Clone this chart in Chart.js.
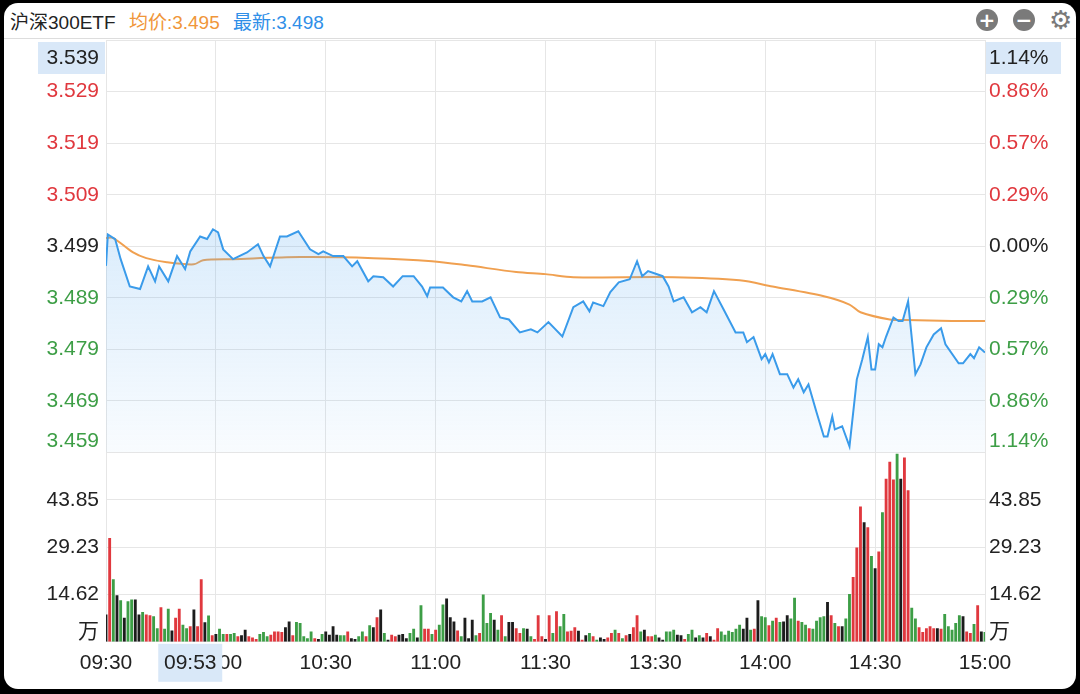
<!DOCTYPE html>
<html lang="zh">
<head>
<meta charset="UTF-8">
<title>沪深300ETF</title>
<script src="https://cdn.jsdelivr.net/npm/chart.js"></script>
<style>
  html, body { margin: 0; padding: 0; background: #000; }
  body { width: 1080px; height: 694px; position: relative; overflow: hidden;
         font-family: "Liberation Sans", "Noto Sans CJK SC", sans-serif; }
  .frame { position: absolute; left: 4px; top: 3px; width: 1072px; height: 686px;
           background: #fff; border-radius: 14px; }
  .head { position: absolute; left: 10px; top: 7px; font-size: 19px; color: #222; white-space: nowrap; }
  .head .avg { color: #f0963a; margin-left: 8px; }
  .head .last { color: #2f8fe8; margin-left: 8px; }
  .sep { position: absolute; left: 4px; right: 4px; top: 38px; height: 1px; background: #ddd; }
  .btn { position: absolute; top: 9px; width: 22px; height: 22px; border-radius: 50%; background: #7a7a7a;
         color: #fff; font: bold 20px/22px "DejaVu Sans", sans-serif; text-align: center; }
  .gear { position: absolute; top: 5px; left: 1049px; font: 26px "DejaVu Sans", sans-serif; color: #7a7a7a; }
  .box { position: absolute; background: #d9e8f8; }
  canvas { position: absolute; left: 0; top: 0; }
</style>
</head>
<body>
<div class="frame"></div>
<div class="sep"></div>
<div class="head">沪深300ETF <span class="avg">均价:3.495</span> <span class="last">最新:3.498</span></div>
<div class="btn" style="left:976px">+</div>
<div class="btn" style="left:1013px">−</div>
<div class="gear">⚙</div>
<div class="box" style="left:38px;top:42px;width:67px;height:32px"></div>
<div class="box" style="left:985px;top:42px;width:76px;height:32px"></div>
<canvas id="c" width="1080" height="694"></canvas>
<script>
// 分时价格 (分钟序号, 价格)
const priceMin = [0,0.5,2.5,4,6.5,9.3,11.5,13.4,14.5,17,19.4,21.6,23,25.7,27.6,29.2,30.6,32,34.7,38.5,41.5,43,44.8,47.5,49.4,52.5,55.7,58,59.3,62,64.8,67.2,68.6,71.6,73,75.7,78.4,81,84,86.3,87.7,88.5,92,94.8,97,98.6,100,102.7,105,107.6,110,113,116,117.8,120.8,124.6,127.6,130.3,132,133,135.8,137.7,140,143,145,146.4,148,152,153.6,155,157.7,160,162.3,164,166,168.6,171.9,174,175,176.8,179,180,181,182,184,186,187.7,189,190.5,191.8,194,196,197,198.3,199,201,203,205,206.5,208,209,210,211,212,213,215,216.4,217.5,219,221,222.4,224,226,228,229.2,232.8,234,236,237,238.4,240];
const priceVal = [3.4952,3.5013,3.5004,3.4965,3.4912,3.4907,3.4951,3.4922,3.4951,3.4922,3.4971,3.4946,3.4980,3.5009,3.5004,3.5023,3.5017,3.4984,3.4965,3.4978,3.4994,3.4971,3.4951,3.5009,3.5009,3.5019,3.4984,3.4975,3.4980,3.4971,3.4971,3.4951,3.4961,3.4922,3.4932,3.4930,3.4912,3.4932,3.4932,3.4912,3.4893,3.4910,3.4910,3.4891,3.4883,3.4903,3.4883,3.4883,3.4891,3.4852,3.4848,3.4823,3.4829,3.4823,3.4843,3.4815,3.4872,3.4883,3.4864,3.4881,3.4874,3.4901,3.4920,3.4926,3.4961,3.4932,3.4942,3.4932,3.4912,3.4883,3.4891,3.4862,3.4872,3.4862,3.4903,3.4868,3.4823,3.4823,3.4804,3.4814,3.4771,3.4781,3.4765,3.4781,3.4742,3.4742,3.4716,3.4732,3.4707,3.4722,3.4668,3.4621,3.4621,3.4660,3.4635,3.4641,3.4602,3.4732,3.4771,3.4814,3.4751,3.4751,3.4800,3.4794,3.4815,3.4852,3.4845,3.4845,3.4883,3.4742,3.4761,3.4794,3.4819,3.4831,3.4800,3.4763,3.4763,3.4781,3.4773,3.4794,3.4784];

// 均价线
const avgMin = [0,2,7.4,11,16.6,24,26.5,34.7,53,73,89,98.6,112,120,127.6,155,173,182,196,203,206,214,218.5,231,240];
const avgVal = [3.5006,3.5006,3.4978,3.4967,3.4959,3.4955,3.4963,3.4965,3.4969,3.4967,3.4961,3.4953,3.4940,3.4936,3.4930,3.4930,3.4924,3.4912,3.4893,3.4877,3.4862,3.4848,3.4847,3.4845,3.4845];

// 每分钟成交量 (万), 每行10分钟
const volume = [
  8.3,32,19.2,14.3,12.7,7.3,12.4,13,13,8.3,
  9.1,8.3,8.1,7.8,4.1,10.6,3.9,10.1,3.4,7.3,
  10.1,5.2,4.1,4.7,9.9,4.7,19.2,5.9,8,1.9,
  2.3,3.9,2.3,2.3,2.3,2.6,1.6,1.9,3.6,1.6,
  1.2,0.8,2.3,2.9,1.6,2.1,3.1,3.1,2.9,4.4,
  6.2,1.9,6,5.7,1.6,1,3.1,1,0.8,2.3,
  3.1,2.1,4.7,2.1,1.9,1.9,3.1,1,0.8,1.6,
  3.1,1.6,5,4.4,7.5,9.9,2.6,0.5,2.1,1.6,
  2.1,2.3,1,2.6,3.9,1.2,11.2,3.9,3.9,2.3,
  3.6,5.2,11.4,13.3,7.5,6.2,3.4,1.6,7.3,1,
  6.7,1.9,2.6,14.5,5.7,8.8,6.7,3.6,8.1,1.6,
  6,6,4.1,2.6,4.1,3.9,1.6,0.8,8.1,1.6,
  0.8,8.1,2.6,9.3,4.7,8.5,3.1,3.3,4.4,3.3,
  0.5,1.9,2.6,1.6,0.5,1.2,0.8,1.2,2.6,3.6,
  2.6,1,1.9,2.3,4.4,8.1,3.1,3.6,1.6,1.6,
  2.1,1.2,0.5,3.1,3.1,3.6,2.1,1.9,0.8,2.3,
  3.6,1.2,1.9,1.2,2.6,1.6,0.5,4.1,3.1,2.1,
  3.3,2.9,3.9,5.2,3.9,7.3,3.6,3.9,12.7,7.8,
  7.5,5,6.4,7.3,6,6.2,8.1,7.1,13.5,6.4,
  6,5.2,4.1,3.9,6.4,7.5,7.8,12.2,8.1,5.7,
  4.7,4.7,7.1,14.7,19.9,29,41.7,36.8,35.3,26.4,
  22.6,27.8,39.9,50.3,55.5,50,58,50.3,56.8,46.7,
  10.4,7.1,4.4,2.9,4.1,4.7,4.1,4.1,3.9,8.5,
  4.7,3.6,5.7,8.1,7.8,3.1,2.6,5.4,11.2,3.1,
  2.9
];
// r 涨 / g 跌 / k 平
const volColor = [
  'krgkgkggkk','grrggrggkr','rggrkrrkgr','kggrggrkkr','rrgggrrrrk',
  'krgggggrkg','kkkkggrkkg','grgkrkgkrr','kkkggkgrrg','rggkkkrgkk',
  'kgrgggkgrg','kkrrgkgrrr','krgrggrrrk','rkgrgkkrrg','rgrkrrgkrr',
  'gkkgggkkrg','gkgkrkrrgg','ggggkkgrkg','grgrgkkggr','ggrggggkrg',
  'rkggrrrkrg','krgrrrgkrr','ggrrrrrkrg','ggggkrrgrk','g'
].join('');

// 坐标刻度
const priceTicks = [3.539, 3.529, 3.519, 3.509, 3.499, 3.489, 3.479, 3.469, 3.459];
const priceLabels = ['3.539', '3.529', '3.519', '3.509', '3.499', '3.489', '3.479', '3.469', '3.459'];
const pctLabels = ['1.14%', '0.86%', '0.57%', '0.29%', '0.00%', '0.29%', '0.57%', '0.86%', '1.14%'];
const tickColors = ['#222', '#e0383e', '#e0383e', '#e0383e', '#222', '#3d9e46', '#3d9e46', '#3d9e46', '#3d9e46'];
const volTicks = [58.46, 43.85, 29.23, 14.62, 0];
const volLabels = ['', '43.85', '29.23', '14.62', '万'];
const timeTicks = [0, 30, 60, 90, 120, 150, 180, 210, 240];
const timeLabels = ['09:30', '10:00', '10:30', '11:00', '11:30', '13:30', '14:00', '14:30', '15:00'];
const crossMin = 23;
const crossLabel = '09:53';

const colorMap = { r: '#e0383e', g: '#3d9e46', k: '#1c1c1c' };
const FONT = '"Liberation Sans", "Noto Sans CJK SC", sans-serif';

// 侧边标签与十字光标时间
const sideLabels = {
  id: 'sideLabels',
  afterDraw(chart) {
    const ctx = chart.ctx, y = chart.scales.y, yv = chart.scales.yv, x = chart.scales.x;
    const area = chart.chartArea;
    ctx.save();
    ctx.font = '21px ' + FONT;
    ctx.textBaseline = 'middle';
    priceTicks.forEach((v, i) => {
      let py = y.getPixelForValue(v);
      py = Math.min(Math.max(py, area.top + 18), y.bottom - 11);
      ctx.fillStyle = tickColors[i];
      ctx.textAlign = 'right';
      ctx.fillText(priceLabels[i], area.left - 7, py);
      ctx.textAlign = 'left';
      ctx.fillText(pctLabels[i], area.right + 4, py);
    });
    ctx.fillStyle = '#222';
    volTicks.forEach((v, i) => {
      if (!volLabels[i]) return;
      let py = yv.getPixelForValue(v);
      if (v === 0) py -= 10;
      ctx.textAlign = 'right';
      ctx.fillText(volLabels[i], area.left - 7, py);
      ctx.textAlign = 'left';
      ctx.fillText(volLabels[i], area.right + 4, py);
    });
    const cx = x.getPixelForValue(crossMin);
    ctx.fillStyle = '#d9e8f8';
    ctx.fillRect(cx - 32, area.bottom + 2, 64, 38);
    ctx.fillStyle = '#222';
    ctx.textAlign = 'center';
    ctx.fillText(crossLabel, cx, area.bottom + 21);
    ctx.restore();
  }
};

const cv = document.getElementById('c');
const g = cv.getContext('2d');
const grad = g.createLinearGradient(0, 230, 0, 452);
grad.addColorStop(0, 'rgba(90,170,240,0.22)');
grad.addColorStop(1, 'rgba(90,170,240,0.04)');

new Chart(cv, {
  data: {
    datasets: [
      {
        type: 'line',
        data: priceMin.map((m, i) => ({ x: m, y: priceVal[i] })),
        xAxisID: 'x', yAxisID: 'y',
        borderColor: '#3a9bea', borderWidth: 2, pointRadius: 0,
        fill: 'start', backgroundColor: grad, tension: 0
      },
      {
        type: 'line',
        data: avgMin.map((m, i) => ({ x: m, y: avgVal[i] })),
        xAxisID: 'x', yAxisID: 'y',
        borderColor: '#f0a050', borderWidth: 2, pointRadius: 0, fill: false, tension: 0.3
      },
      {
        type: 'bar',
        data: volume.map((v, i) => ({ x: i, y: v })),
        xAxisID: 'x', yAxisID: 'yv',
        backgroundColor: volume.map((v, i) => colorMap[volColor[i]] || '#3d9e46'),
        barThickness: 2.2
      }
    ]
  },
  options: {
    responsive: false,
    animation: false,
    layout: { padding: { left: 106, right: 95, top: 40, bottom: 9 } },
    plugins: { legend: { display: false }, tooltip: { enabled: false } },
    scales: {
      x: {
        type: 'linear', min: 0, max: 240, offset: false,
        afterBuildTicks: s => { s.ticks = timeTicks.map(v => ({ value: v })); },
        ticks: {
          autoSkip: false, maxRotation: 0, padding: 9, color: '#222',
          font: { size: 21, family: FONT },
          callback: (v) => timeLabels[timeTicks.indexOf(v)]
        },
        grid: { color: '#e6e6e6', drawTicks: false, offset: false },
        border: { display: false }
      },
      yv: {
        type: 'linear', min: 0, max: 58.46, stack: 'main', stackWeight: 189,
        afterBuildTicks: s => { s.ticks = volTicks.map(v => ({ value: v })); },
        ticks: { display: false },
        grid: { color: '#e6e6e6', drawTicks: false },
        border: { display: false }
      },
      y: {
        type: 'linear', min: 3.459, max: 3.539, stack: 'main', stackWeight: 412,
        afterBuildTicks: s => { s.ticks = priceTicks.map(v => ({ value: v })); },
        ticks: { display: false },
        grid: { color: '#e6e6e6', drawTicks: false },
        border: { display: false }
      }
    }
  },
  plugins: [sideLabels]
});
</script>
</body>
</html>
